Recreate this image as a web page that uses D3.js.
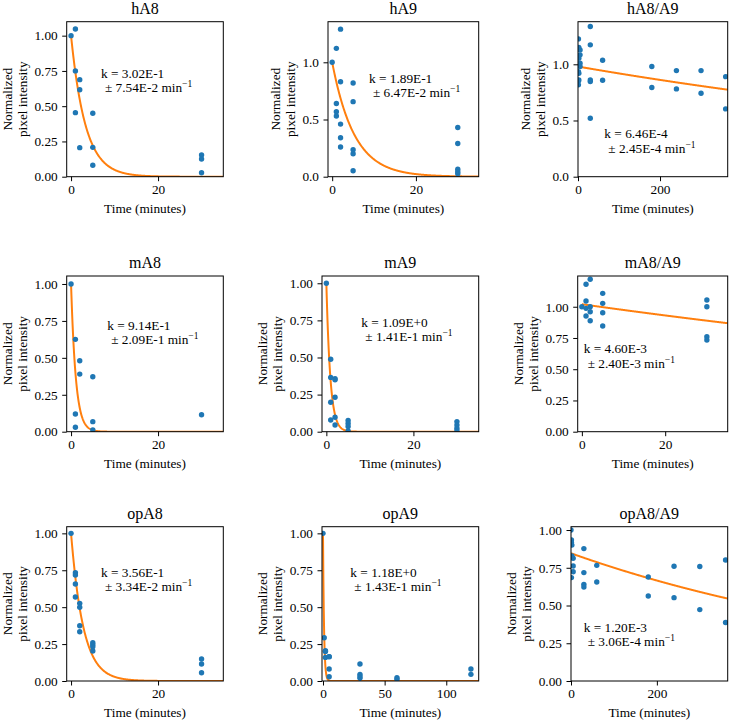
<!DOCTYPE html>
<html>
<head>
<meta charset="utf-8">
<script src="https://cdn.jsdelivr.net/npm/d3@7/dist/d3.min.js"></script>
</head>
<body style="margin:0; background:#fff">
<svg id="chart" width="730" height="722"></svg>
<script>
// panel titles
let titles = ["hA8", "hA9", "hA8/A9", "mA8", "mA9", "mA8/A9", "opA8", "opA9", "opA8/A9"];

// time points (minutes) and normalized intensity, one pair per panel
let hA8_t = [0, 1, 1, 1, 2, 2, 2, 5, 5, 5, 30, 30, 30];
let hA8_y = [1.00, 1.047, 0.75, 0.454, 0.688, 0.617, 0.206, 0.45, 0.208, 0.081, 0.154, 0.125, 0.028];

let hA9_t = [0, 1, 1, 1, 1, 2, 2, 2, 2, 2, 5, 5, 5, 5, 5, 30, 30, 30, 30, 30];
let hA9_y = [1.0, 1.122, 0.64, 0.568, 0.53, 1.29, 0.83, 0.46, 0.34, 0.26, 0.819, 0.656, 0.236, 0.20, 0.052, 0.43, 0.29, 0.065, 0.044, 0.026];

let hA8A9_t = [0, 1, 1, 1, 1, 2, 2, 2, 2, 5, 5, 5, 5, 30, 30, 30, 30, 30, 60, 60, 180, 180, 240, 240, 300, 300, 360, 360];
let hA8A9_y = [1.0, 1.226, 0.935, 0.852, 0.817, 1.149, 1.054, 0.92, 0.861, 1.128, 1.084, 0.98, 1.01,
               1.336, 1.173, 0.861, 0.846, 0.52, 1.036, 0.858, 0.98, 0.793, 0.944, 0.781, 0.944, 0.742, 0.89, 0.603];

let mA8_t = [0, 1, 1, 1, 2, 2, 5, 5, 5, 30];
let mA8_y = [1.0, 0.625, 0.12, 0.03, 0.48, 0.39, 0.372, 0.068, 0.012, 0.115];

let mA9_t = [0, 1, 1, 1, 1, 2, 2, 2, 2, 2, 5, 5, 5, 5, 30, 30, 30, 30];
let mA9_y = [1.0, 0.488, 0.366, 0.198, 0.079, 0.357, 0.35, 0.232, 0.097, 0.045, 0.075, 0.055, 0.035, 0.005, 0.068, 0.045, 0.023, 0.007];

let mA8A9_t = [0, 1, 1, 1, 1, 2, 2, 2, 2, 5, 5, 5, 5, 30, 30, 30, 30];
let mA8A9_y = [1.0, 1.18, 1.046, 0.987, 0.926, 1.22, 1.0, 0.96, 0.888, 1.107, 1.027, 0.952, 0.846, 1.054, 1.0, 0.76, 0.734];

let opA8_t = [0, 1, 1, 1, 1, 2, 2, 2, 2, 5, 5, 5, 5, 30, 30, 30];
let opA8_y = [1.0, 0.733, 0.718, 0.657, 0.569, 0.526, 0.499, 0.374, 0.334, 0.259, 0.245, 0.232, 0.203, 0.149, 0.115, 0.056];

let opA9_t = [0, 1, 2, 2, 2, 5, 5, 5, 5, 30, 30, 30, 30, 60, 60, 120, 120];
let opA9_y = [1.0, 0.293, 0.205, 0.2, 0.16, 0.165, 0.165, 0.081, 0.029, 0.115, 0.045, 0.03, 0.018, 0.022, 0.012, 0.081, 0.045];

let opA8A9_t = [0, 1, 1, 2, 2, 5, 5, 5, 1, 30, 30, 30, 30, 60, 60, 180, 180, 240, 240, 300, 300, 360, 360];
let opA8A9_y = [1.0, 0.934, 0.917, 0.9, 0.828, 0.813, 0.762, 0.724, 0.685, 0.877, 0.718, 0.64, 0.623,
                0.766, 0.656, 0.689, 0.563, 0.76, 0.552, 0.758, 0.473, 0.801, 0.387];

// exponential fit: y = A * exp(-k t)
let rates = [3.02e-1, 1.89e-1, 6.46e-4, 9.14e-1, 1.09e+0, 4.60e-3, 3.56e-1, 1.18e+0, 1.20e-3];
let rateErrors = [7.54e-2, 6.47e-2, 2.45e-4, 2.09e-1, 1.41e-1, 2.40e-3, 3.34e-2, 1.43e-1, 3.06e-4];
let amplitudes = [1, 1, 0.98, 1, 1, 1.02, 1, 1, 0.846];

// axis limits and ticks
let xDomains = [[-1, 35], [-1, 35], [0, 365], [-1, 35], [-1, 35], [-1, 35], [-1, 35], [-0.8, 126.3], [0, 365]];
let yMax = [1.099, 1.355, 1.379, 1.054, 1.049, 1.246, 1.045, 1.045, 1.022];
let xTicks = [[0, 20], [0, 20], [0, 200], [0, 20], [0, 20], [0, 20], [0, 20], [0, 50, 100], [0, 200]];
let yTicksA = [0, 0.25, 0.5, 0.75, 1.0];
let yTicksB = [0, 0.5, 1.0];

let series = [
    [hA8_t, hA8_y], [hA9_t, hA9_y], [hA8A9_t, hA8A9_y],
    [mA8_t, mA8_y], [mA9_t, mA9_y], [mA8A9_t, mA8A9_y],
    [opA8_t, opA8_y], [opA9_t, opA9_y], [opA8A9_t, opA8A9_y]
];

// layout: axes boxes [left, top, right, bottom] and label anchor (axes fractions)
let boxes = [
    [66.7, 21.7, 223.3, 176.7], [328, 21.7, 478.7, 176.7], [578, 21.7, 727.7, 176.7],
    [66.7, 276, 223.3, 431.7], [322, 276, 478.7, 431.7], [577.7, 276, 727.7, 431.7],
    [66.7, 526.7, 223.3, 681], [322, 526.7, 478.7, 681], [571, 526.7, 727.7, 681]
];
let notePos = [[0.219, 0.361], [0.272, 0.395], [0.176, 0.752], [0.259, 0.347], [0.251, 0.326],
               [0.04, 0.496], [0.219, 0.326], [0.181, 0.326], [0.081, 0.68]];

let blue = "#1f77b4";
let orange = "#ff7f0e";
let font = "'Liberation Serif'";
let fs = 13.3;

let svg = d3.select("#chart");
svg.append("rect").attr("width", 730).attr("height", 722).attr("fill", "#fff");

let fmtE = v => v.toExponential(2).toUpperCase();

let addText = (sel, size) => sel.append("text")
    .style("font-family", font).style("font-size", size + "px");

titles.forEach((title, i) => {
    let [l, t, r, b] = boxes[i];
    let w = r - l, h = b - t;
    let x = d3.scaleLinear().domain(xDomains[i]).range([0, w]);
    let y = d3.scaleLinear().domain([0, yMax[i]]).range([h, 0]);
    let yTicks = (i == 1 || i == 2) ? yTicksB : yTicksA;
    let yFmt = (i == 1 || i == 2) ? d3.format(".1f") : d3.format(".2f");

    let g = svg.append("g").attr("transform", "translate(" + l + "," + t + ")");

    g.append("clipPath").attr("id", "clip" + i)
        .append("rect").attr("width", w).attr("height", h);

    // fitted curve
    let k = rates[i], A = amplitudes[i];
    let xs = d3.range(0, 401).map(j => xDomains[i][1] * j / 400);
    let curve = d3.line().x(d => x(d)).y(d => y(A * Math.exp(-k * d)));
    g.append("path").datum(xs)
        .attr("d", curve)
        .attr("fill", "none")
        .attr("stroke", orange)
        .attr("stroke-width", 2)
        .attr("clip-path", "url(#clip" + i + ")");

    // points
    let pts = series[i][0].map((tt, j) => ({t: tt, v: series[i][1][j]}));
    g.append("g").attr("clip-path", "url(#clip" + i + ")")
        .selectAll("circle").data(pts).enter().append("circle")
        .attr("cx", d => x(d.t))
        .attr("cy", d => y(d.v))
        .attr("r", 2.7)
        .attr("fill", blue);

    // axes
    let xAxis = g.append("g").attr("transform", "translate(0," + h + ")")
        .call(d3.axisBottom(x).tickValues(xTicks[i]).tickFormat(d3.format("d")).tickSize(4.5).tickPadding(3));
    let yAxis = g.append("g")
        .call(d3.axisLeft(y).tickValues(yTicks).tickFormat(yFmt).tickSize(4.5).tickPadding(4.5));
    [xAxis, yAxis].forEach(a => {
        a.attr("font-family", null).attr("font-size", null);
        a.select(".domain").remove();
        a.selectAll("line").attr("stroke", "#000").attr("stroke-width", 1);
        a.selectAll("text").style("font-family", font).style("font-size", fs + "px").attr("fill", "#000");
    });

    // frame
    g.append("rect").attr("width", w).attr("height", h)
        .attr("fill", "none").attr("stroke", "#000").attr("stroke-width", 1);

    // title
    addText(g, 16).attr("x", w / 2).attr("y", -8)
        .attr("text-anchor", "middle").text(title);

    // x label
    addText(g, fs).attr("x", w / 2).attr("y", h + 36.5)
        .attr("text-anchor", "middle").text("Time (minutes)");

    // y label (two lines)
    let maxW = d3.max(yAxis.selectAll("text").nodes(), n => n.getBBox().width);
    let base2 = -9.5 - maxW - 5.3 - 1.2;
    let yl = addText(g, fs)
        .attr("transform", "translate(" + (base2 - fs * 1.15) + "," + (h / 2) + ") rotate(-90)")
        .attr("text-anchor", "middle");
    yl.append("tspan").attr("x", 0).attr("dy", 0).text("Normalized");
    yl.append("tspan").attr("x", 0).attr("dy", fs * 1.15).text("pixel intensity");

    // rate annotation
    let ax = notePos[i][0] * w, ay = notePos[i][1] * h;
    let note = addText(g, fs);
    note.append("tspan").attr("x", ax).attr("y", ay).text("k = " + fmtE(rates[i]));
    note.append("tspan").attr("x", ax + 4).attr("y", ay + 14.4).text("\u00b1 " + fmtE(rateErrors[i]) + " min");
    note.append("tspan").attr("dy", -5).style("font-size", "9.5px").text("\u22121");
});
</script>
</body>
</html>
